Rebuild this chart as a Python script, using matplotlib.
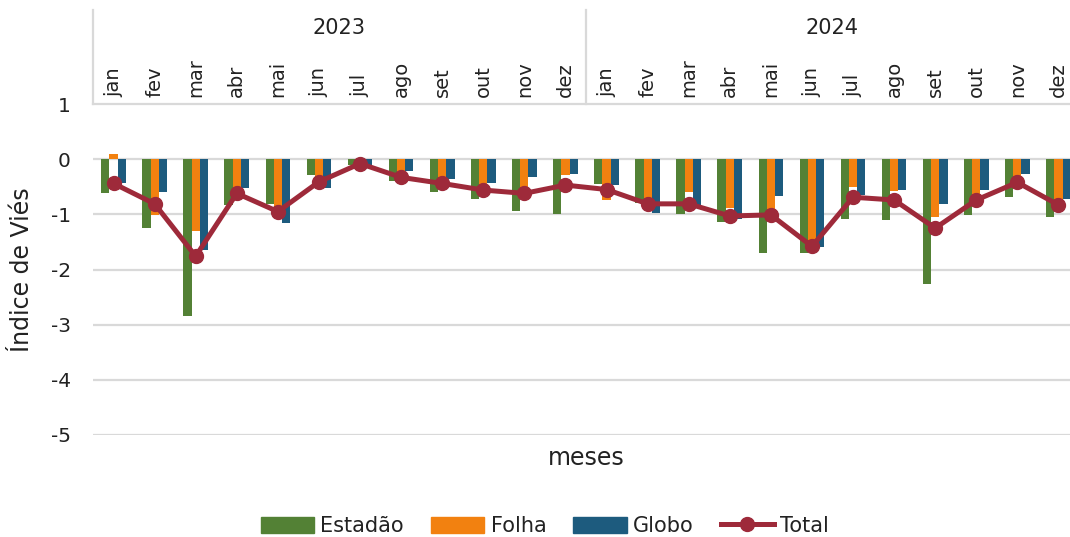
import matplotlib
matplotlib.use("Agg")
import matplotlib.pyplot as plt
import matplotlib.transforms as mtransforms
from matplotlib.patches import Patch
from matplotlib.lines import Line2D
import numpy as np

plt.rcParams['font.family'] = ['DejaVu Sans']

years = ["2023", "2024"]
months = ["jan", "fev", "mar", "abr", "mai", "jun", "jul", "ago", "set", "out", "nov", "dez"]

estadao = [-0.62, -1.25, -2.85, -0.83, -0.81, -0.29, -0.10, -0.39, -0.60, -0.72, -0.94, -0.99,
           -0.45, -0.80, -1.00, -1.13, -1.70, -1.70, -1.09, -1.10, -2.27, -1.01, -0.69, -1.04]
folha = [0.10, -1.01, -1.30, -0.56, -0.95, -0.38, -0.05, -0.22, -0.40, -0.56, -0.58, -0.29,
         -0.74, -0.83, -0.60, -0.89, -0.95, -1.59, -0.51, -0.57, -1.04, -0.65, -0.32, -0.86]
globo = [-0.44, -0.60, -1.65, -0.53, -1.16, -0.53, -0.10, -0.22, -0.36, -0.44, -0.33, -0.27,
         -0.46, -0.97, -0.83, -1.09, -0.67, -1.60, -0.65, -0.56, -0.81, -0.56, -0.27, -0.73]
total = [-0.44, -0.81, -1.76, -0.62, -0.95, -0.41, -0.08, -0.33, -0.44, -0.56, -0.62, -0.47,
         -0.55, -0.81, -0.81, -1.03, -1.01, -1.58, -0.69, -0.74, -1.25, -0.74, -0.42, -0.83]

yticks = [1, 0, -1, -2, -3, -4, -5]

c_green = "#538135"
c_orange = "#F28110"
c_blue = "#1D5B7E"
c_red = "#9E2A3A"
c_grid = "#D9D9D9"
c_text = "#222222"

W, H = 1070, 537
fig = plt.figure(figsize=(W / 100, H / 100), dpi=100)
left, right = 93, 1079
top, bottom = 104, 435
ax = fig.add_axes([left / W, (H - bottom) / H, (right - left) / W, (bottom - top) / H])

n = len(estadao)
x = np.arange(n)
bw = 0.2
ax.bar(x - bw, estadao, bw, color=c_green, zorder=2)
ax.bar(x, folha, bw, color=c_orange, zorder=2)
ax.bar(x + bw, globo, bw, color=c_blue, zorder=2)
ax.plot(x, total, color=c_red, lw=3.6, marker='o', ms=10, zorder=3,
        solid_joinstyle='round')

ax.set_xlim(-0.5, n - 0.5)
ax.set_ylim(-5, 1)
ax.set_yticks(yticks)
ax.set_yticklabels([str(v) for v in yticks])
for v in yticks[1:]:
    ax.axhline(v, color=c_grid, lw=1.6, zorder=1)

for s in ['left', 'right', 'bottom']:
    ax.spines[s].set_visible(False)
ax.spines['top'].set_color(c_grid)
ax.spines['top'].set_linewidth(1.6)

ax.tick_params(axis='y', length=0, pad=16, labelsize=14.5, labelcolor=c_text)
ax.xaxis.tick_top()
ax.set_xticks(x)
ax.set_xticklabels(months * len(years), rotation=90)
ax.tick_params(axis='x', length=0, pad=5, labelsize=14, labelcolor=c_text)

trans = mtransforms.blended_transform_factory(ax.transData, ax.transAxes)
ytop = (bottom - 10) / (bottom - top)
for b in [-0.5, 11.5, 23.5]:
    ax.plot([b, b], [1, ytop], transform=trans, color=c_grid, lw=1.6, clip_on=False)
yyear = (bottom - 28) / (bottom - top)
for i, yr in enumerate(years):
    ax.text(i * 12 + 5.5, yyear, yr, transform=trans, ha='center', va='center',
            fontsize=15, color=c_text)

fig.text(22 / W, (H - 270) / H, "Índice de Viés", rotation=90, ha='center', va='center',
         fontsize=17, color=c_text)
fig.text(586 / W, (H - 458) / H, "meses", ha='center', va='center', fontsize=17, color=c_text)

handles = [Patch(color=c_green), Patch(color=c_orange), Patch(color=c_blue),
           Line2D([0], [0], color=c_red, lw=3.6, marker='o', ms=10)]
labels = ["Estadão", "Folha", "Globo", "Total"]
fig.legend(handles, labels, loc='center', bbox_to_anchor=(545 / W, (H - 526) / H), ncol=4,
           frameon=False, fontsize=15, handlelength=2.55, handleheight=0.8,
           columnspacing=1.3, handletextpad=0.3, labelcolor=c_text)

fig.savefig("out.png", dpi=100)
